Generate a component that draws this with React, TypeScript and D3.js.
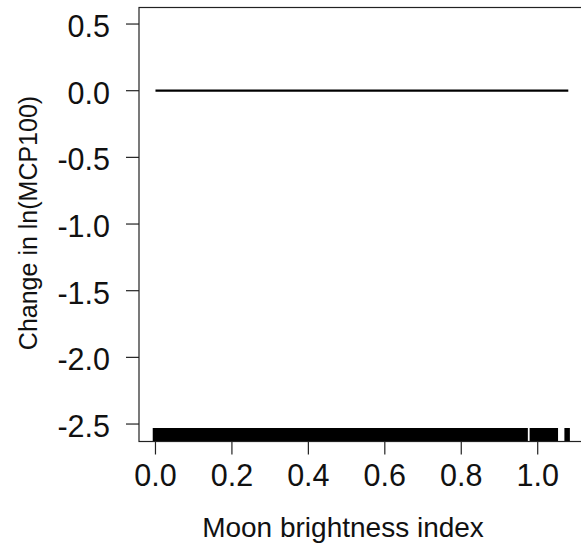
import React from "react";
import * as d3 from "d3";

const xTicks = [0.0, 0.2, 0.4, 0.6, 0.8, 1.0];
const yTicks = [0.5, 0.0, -0.5, -1.0, -1.5, -2.0, -2.5];
const lineX = [0.0, 1.08];
const lineY = [0.0, 0.0];
const rugValues = [
  0.0, 0.01, 0.02, 0.03, 0.04, 0.05, 0.06, 0.07, 0.08, 0.09,
  0.1, 0.11, 0.12, 0.13, 0.14, 0.15, 0.16, 0.17, 0.18, 0.19,
  0.2, 0.21, 0.22, 0.23, 0.24, 0.25, 0.26, 0.27, 0.28, 0.29,
  0.3, 0.31, 0.32, 0.33, 0.34, 0.35, 0.36, 0.37, 0.38, 0.39,
  0.4, 0.41, 0.42, 0.43, 0.44, 0.45, 0.46, 0.47, 0.48, 0.49,
  0.5, 0.51, 0.52, 0.53, 0.54, 0.55, 0.56, 0.57, 0.58, 0.59,
  0.6, 0.61, 0.62, 0.63, 0.64, 0.65, 0.66, 0.67, 0.68, 0.69,
  0.7, 0.71, 0.72, 0.73, 0.74, 0.75, 0.76, 0.77, 0.78, 0.79,
  0.8, 0.81, 0.82, 0.83, 0.84, 0.85, 0.86, 0.87, 0.88, 0.89,
  0.9, 0.91, 0.92, 0.93, 0.94, 0.95, 0.96, 0.967,
  0.986, 0.993, 1.0, 1.01, 1.02, 1.03, 1.04, 1.046,
  1.077,
];
const xLabel = "Moon brightness index";
const yLabel = "Change in ln(MCP100)";

const W = 581;
const H = 551;
const left = 139;
const right = 584;
const top = 7.5;
const bottom = 441.5;

export default function App() {
  const x = d3.scaleLinear().domain([-0.0431, 1.1211]).range([left, right]);
  const y = d3.scaleLinear().domain([-2.631, 0.624]).range([bottom, top]);
  const line = d3
    .line<number>()
    .x((_, i) => x(lineX[i]))
    .y((d) => y(d));
  const font = "Liberation Sans, Arial, sans-serif";
  const rugLen = 13.5;
  return (
    <svg
      width={W}
      height={H}
      style={{ position: "absolute", left: 0, top: 0, background: "#fff" }}
      fontFamily={font}
    >
      <rect x={0} y={0} width={W} height={H} fill="#fff" />
      {rugValues.map((v, i) => (
        <line
          key={"r" + i}
          x1={x(v)}
          x2={x(v)}
          y1={bottom}
          y2={bottom - rugLen}
          stroke="#000"
          strokeWidth={5.5}
        />
      ))}
      <path d={line(lineY) || ""} fill="none" stroke="#000" strokeWidth={2.3} />
      <rect
        x={left}
        y={top}
        width={right - left}
        height={bottom - top}
        fill="none"
        stroke="#222"
        strokeWidth={1.2}
      />
      {xTicks.map((t) => (
        <g key={"x" + t}>
          <line x1={x(t)} x2={x(t)} y1={bottom} y2={bottom + 13} stroke="#222" strokeWidth={1.2} />
          <text x={x(t)} y={485.5} textAnchor="middle" fontSize={30.5} fill="#111">
            {t.toFixed(1)}
          </text>
        </g>
      ))}
      {yTicks.map((t) => (
        <g key={"y" + t}>
          <line x1={left - 13} x2={left} y1={y(t)} y2={y(t)} stroke="#222" strokeWidth={1.2} />
          <text x={110} y={y(t) + 13} textAnchor="end" fontSize={30.5} fill="#111">
            {t.toFixed(1)}
          </text>
        </g>
      ))}
      <text x={(201 + 485) / 2} y={537} textAnchor="middle" fontSize={28} fill="#111">
        {xLabel}
      </text>
      <text
        transform={`translate(37,223) rotate(-90)`}
        textAnchor="middle"
        fontSize={25}
        fill="#111"
      >
        {yLabel}
      </text>
    </svg>
  );
}
